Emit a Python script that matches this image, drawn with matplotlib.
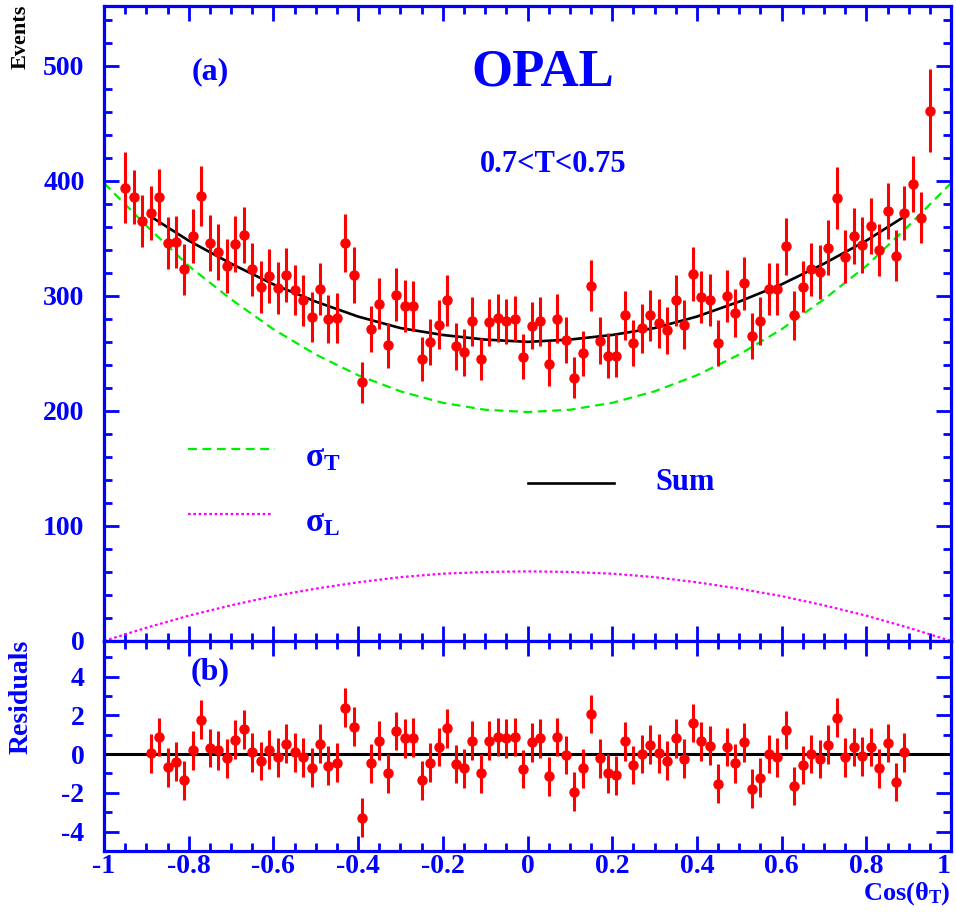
import numpy as np
import matplotlib
matplotlib.use("Agg")
import matplotlib.pyplot as plt
from matplotlib.lines import Line2D

plt.rcParams['font.family'] = ['Liberation Serif', 'DejaVu Serif']
plt.rcParams['font.weight'] = 'bold'
plt.rcParams['axes.unicode_minus'] = False
plt.rcParams['mathtext.fontset'] = 'custom'
plt.rcParams['mathtext.rm'] = 'Liberation Serif:bold'
plt.rcParams['mathtext.it'] = 'Liberation Serif:bold'
plt.rcParams['mathtext.bf'] = 'Liberation Serif:bold'

BLUE = "#0000ff"

# bin centres, cos(theta_T)
cos_bins = np.round(np.arange(-0.95, 0.951, 0.02), 2)

events = [394, 386, 365, 372, 386, 346, 347, 323, 352, 387,
          346, 338, 326, 345, 353, 323, 308, 317, 307, 318,
          305, 296, 282, 306, 280, 281, 346, 318, 225, 271,
          293, 257, 301, 291, 291, 245, 260, 275, 296, 256,
          251, 278, 245, 277, 281, 278, 280, 247, 274, 278,
          241, 280, 262, 229, 250, 309, 261, 248, 248, 283,
          259, 272, 283, 276, 270, 296, 275, 319, 299, 296,
          259, 300, 285, 311, 265, 278, 306, 306, 343, 283,
          308, 323, 321, 342, 385, 334, 352, 344, 361, 340,
          374, 335, 372, 397, 368, 461]
event_err = [31.0, 23.5, 22.3, 23.5, 24.6, 22.8, 22.8, 22.0, 23.5, 26.0,
             24.3, 24.1, 23.2, 24.3, 24.6, 23.2, 22.5, 23.5, 22.8, 23.5,
             22.0, 22.5, 21.7, 22.5, 21.0, 21.6, 25.5, 24.6, 17.8, 20.1,
             22.2, 19.7, 22.9, 22.5, 21.7, 19.0, 19.7, 21.0, 22.3, 20.3,
             20.6, 21.4, 18.4, 20.7, 20.9, 19.6, 19.6, 19.6, 20.6, 21.4,
             19.4, 21.3, 20.0, 18.1, 19.6, 22.5, 20.4, 19.6, 18.8, 21.4,
             20.0, 21.3, 22.0, 20.9, 20.7, 22.2, 21.0, 23.6, 22.5, 22.6,
             20.0, 22.3, 20.9, 23.2, 20.0, 20.7, 22.9, 22.5, 24.9, 21.3,
             22.3, 23.2, 23.5, 23.9, 27.1, 23.0, 24.6, 24.2, 24.2, 22.9,
             24.5, 22.2, 23.5, 24.3, 22.2, 35.9]

# residual bins cover the fit range only
res_bins = cos_bins[3:-3]
residuals = [0.05, 0.88, -0.68, -0.39, -1.35, 0.19, 1.77, 0.32, 0.19, -0.21,
             0.75, 1.28, 0.09, -0.35, 0.23, -0.16, 0.53, 0.09, -0.16, -0.70,
             0.53, -0.60, -0.44, 2.39, 1.42, -3.28, -0.47, 0.70, -1.00, 1.19,
             0.81, 0.84, -1.35, -0.44, 0.37, 1.33, -0.51, -0.74, 0.70, -1.00,
             0.70, 0.89, 0.81, 0.89, -0.77, 0.61, 0.82, -1.14, 0.88, -0.04,
             -1.93, -0.74, 2.07, -0.21, -1.00, -1.09, 0.67, -0.56, 0.00, 0.49,
             0.05, -0.33, 0.81, -0.23, 1.60, 0.67, 0.44, -1.53, 0.37, -0.47,
             0.61, -1.79, -1.21, 0.00, -0.16, 1.25, -1.65, -0.56, 0.00, -0.25,
             0.49, 1.89, -0.16, 0.37, -0.12, 0.37, -0.74, 0.58, -1.44, 0.09]
res_err = [1.0] * len(residuals)

# fitted components
curve_x = [-1.0, -0.9, -0.8, -0.7, -0.6, -0.5, -0.4, -0.3, -0.2, -0.1, 0.0,
           0.1, 0.2, 0.3, 0.4, 0.5, 0.6, 0.7, 0.8, 0.9, 1.0]
sigma_t = [398, 361, 326, 297, 271, 249, 231, 217, 207, 201, 199,
           201, 207, 217, 231, 249, 271, 297, 326, 361, 398]
sigma_l = [0, 11.5, 22, 31, 39, 45.5, 51, 55.5, 58.5, 60, 60.5,
           60, 58.5, 55.5, 51, 45.5, 39, 31, 22, 11.5, 0]
sum_x = [-0.89, -0.8, -0.7, -0.6, -0.5, -0.4, -0.3, -0.2, -0.1, 0.0,
         0.1, 0.2, 0.3, 0.4, 0.5, 0.6, 0.7, 0.8, 0.89]
sum_fit = [369, 348, 328, 310, 295, 282, 272, 266, 262, 260,
           262, 266, 272, 282, 295, 310, 328, 348, 369]

x_ticks = [-1, -0.8, -0.6, -0.4, -0.2, 0, 0.2, 0.4, 0.6, 0.8, 1]
x_labels = ["-1", "-0.8", "-0.6", "-0.4", "-0.2", "0", "0.2", "0.4", "0.6", "0.8", "1"]
ev_ticks = [0, 100, 200, 300, 400, 500]
res_ticks = [-4, -2, 0, 2, 4]


def style_axes(ax):
    for s in ax.spines.values():
        s.set_color(BLUE)
        s.set_linewidth(2.3)
    ax.tick_params(which='both', direction='in', color=BLUE, width=2,
                   top=True, right=True, labelcolor=BLUE, labelsize=20)
    ax.tick_params(which='major', length=11)
    ax.tick_params(which='minor', length=5.5)
    ax.tick_params(axis='y', pad=14)
    ax.tick_params(axis='x', pad=2)
    ax.set_xlim(-1, 1)
    ax.set_xticks(x_ticks)
    ax.set_xticks(np.arange(-1, 1.001, 0.05), minor=True)


fig = plt.figure(figsize=(9.56, 9.17), dpi=100)
ax1 = fig.add_axes([0.1088, 0.3010, 0.8860, 0.6925])
ax2 = fig.add_axes([0.1088, 0.0720, 0.8860, 0.2290])

# ---- (a) distribution
style_axes(ax1)
ax1.set_ylim(0, 552)
ax1.set_yticks(ev_ticks)
ax1.set_yticks(np.arange(0, 552, 20), minor=True)
ax1.set_xticklabels([])

ax1.plot(curve_x, sigma_t, color="#00ee00", lw=1.6, ls=(0, (4, 2.5)))
ax1.plot(curve_x, sigma_l, color="#ff00ff", lw=1.6, ls=(0, (1.2, 1.2)))
ax1.plot(sum_x, sum_fit, color="black", lw=1.9)
ax1.errorbar(cos_bins, events, yerr=event_err, fmt='o', color="red",
             ms=6.5, elinewidth=2.2, capsize=0)

ax1.text(0.125, 0.896, "(a)", transform=ax1.transAxes, color=BLUE,
         fontsize=23, ha='center', va='center')
ax1.text(0.518, 0.896, "OPAL", transform=ax1.transAxes, color=BLUE,
         fontsize=38, ha='center', va='center')
ax1.text(0.530, 0.750, "0.7<T<0.75", transform=ax1.transAxes, color=BLUE,
         fontsize=22, ha='center', va='center')

# legend, hand placed like the original
ax1.add_line(Line2D([0.099, 0.202], [0.302, 0.302], transform=ax1.transAxes,
                    color="#00ee00", lw=1.6, ls=(0, (4, 2.5))))
ax1.add_line(Line2D([0.099, 0.198], [0.200, 0.200], transform=ax1.transAxes,
                    color="#ff00ff", lw=1.6, ls=(0, (1.2, 1.2))))
ax1.add_line(Line2D([0.5006, 0.602], [0.249, 0.249], transform=ax1.transAxes,
                    color="black", lw=1.9))
ax1.text(0.237, 0.288, r"$\sigma_\mathrm{T}$", transform=ax1.transAxes,
         color=BLUE, fontsize=24, ha='left', va='center')
ax1.text(0.237, 0.187, r"$\sigma_\mathrm{L}$", transform=ax1.transAxes,
         color=BLUE, fontsize=24, ha='left', va='center')
ax1.text(0.6505, 0.249, "Sum", transform=ax1.transAxes, color=BLUE,
         fontsize=22, ha='left', va='center')

# ---- (b) residuals
style_axes(ax2)
ax2.set_ylim(-5, 5.84)
ax2.set_yticks(res_ticks)
ax2.set_yticks([-3, -1, 1, 3, 5], minor=True)
ax2.set_xticklabels(x_labels)
ax2.get_xticklabels()[-1].set_horizontalalignment('right')
ax2.axhline(0, color="black", lw=2.2)
ax2.errorbar(res_bins, residuals, yerr=res_err, fmt='o', color="red",
             ms=6.5, elinewidth=2.2, capsize=0)
ax2.text(0.125, 0.852, "(b)", transform=ax2.transAxes, color=BLUE,
         fontsize=23, ha='center', va='center')

fig.text(0.022, 0.995, "Events", rotation=90, ha='center', va='top',
         color="black", fontsize=16)
fig.text(0.022, 0.302, "Residuals", rotation=90, ha='center', va='top',
         color=BLUE, fontsize=20)
fig.text(0.994, 0.026, r"$\mathrm{Cos}(\theta_\mathrm{T})$", ha='right',
         va='center', color=BLUE, fontsize=19)

fig.savefig("out.png", dpi=100)
